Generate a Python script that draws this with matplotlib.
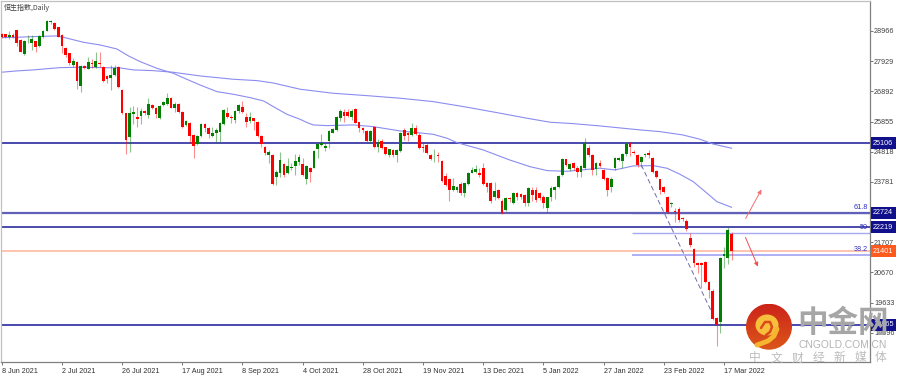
import numpy as np
import matplotlib
matplotlib.use('Agg')
import matplotlib.pyplot as plt
from matplotlib.patches import Circle, Ellipse

plt.rcParams['font.family'] = ['Noto Sans CJK SC', 'DejaVu Sans']

# Daily candles
direction = ('rrgrrrgggr' 'ggggrrrrrg' 'rgrgrgrrrg' 'grrrggrgrg' 'rrgggrgrrg'
             'rrggrrgggg' 'rrggrrgrrr' 'rgrggrgggg' 'rgrggggggg' 'grrgrrrrgr'
             'grrgrggrrg' 'rrrrrgrrrr' 'ggrggggrrr' 'rgrrgrgrrr' 'grrrrggggg'
             'rgrrggrrgr' 'rrggggg' 'rrr' 'ggrrrrrrgr' 'rrrrrrrrrr' 'rgggr')
highs = [28888, 28877, 28980, 28888, 29003, 28682, 28659, 28831, 28831, 28636,
         28819, 29003, 29346, 29346, 29289, 29117, 28854, 28430, 28223, 28028,
         27925, 27788, 27788, 28063, 27994, 28258, 28258, 27765, 27444, 27799,
         27799, 27765, 26963, 26160, 26367, 26390, 26367, 26310, 26252, 26653,
         26458, 26344, 26413, 26573, 26825, 26710, 26539, 26481, 26218, 25908,
         25840, 25427, 25393, 25817, 25794, 25679, 25679, 25622, 25851, 26275,
         26344, 26080, 26252, 26458, 26562, 26160, 26195, 25989, 25885, 25393,
         25026, 24877, 24740, 24189, 24820, 24419, 24590, 24418, 24740, 24740,
         24591, 24362, 24281, 24877, 25107, 25427, 25107, 25565, 25634, 26058,
         26276, 26276, 26276, 26276, 26310, 25851, 25680, 25565, 25565, 25702,
         25244, 25244, 24992, 24923, 24912, 24900, 25508, 25622, 25508, 25794,
         25737, 25450, 25107, 25107, 24740, 24900, 24820, 24534, 24098, 23903,
         23903, 23640, 23789, 23754, 24133, 24281, 24362, 24247, 24419, 23789,
         23766, 23789, 23525, 23181, 23250, 23273, 23445, 23445, 23410, 23365,
         23594, 23617, 23617, 23433, 23319, 23273, 23640, 23640, 24029, 24591,
         24580, 24442, 24465, 24327, 24373, 25278, 25049, 24740, 24465, 24534,
         24236, 23938, 23938, 24648, 24625, 24786, 25164, 25164, 24877, 24740,
         24671, 24763, 24877, 24648, 24190, 23892, 23640, 23307, 23090, 22872,
         22929, 22562, 22494, 22012, 21497, 21038, 21038, 21073, 20385, 20087,
         19124, 21210, 21554, 22242, 22070]
tops = [28865, 28854, 28831, 28831, 29003, 28659, 28636, 28636, 28682, 28613,
        28796, 28968, 29323, 29312, 29255, 29094, 28831, 28372, 28200, 27948,
        27902, 27765, 27765, 27902, 27880, 27925, 27880, 27742, 27421, 27444,
        27696, 27742, 26940, 26138, 26160, 26183, 26023, 26218, 26229, 26458,
        26424, 26310, 26390, 26539, 26676, 26653, 26447, 26458, 26195, 25874,
        25817, 25404, 25370, 25771, 25771, 25622, 25450, 25565, 25794, 26241,
        26138, 26023, 26218, 26424, 26344, 26000, 26000, 25966, 25851, 25358,
        24992, 24820, 24717, 24132, 24533, 24396, 24338, 24304, 24499, 24625,
        24385, 24327, 24259, 24854, 25084, 25118, 25026, 25531, 25599, 26023,
        26207, 26172, 26184, 26207, 26287, 25829, 25622, 25542, 25542, 25680,
        25164, 25187, 24969, 24900, 24877, 24877, 25473, 25565, 25450, 25622,
        25622, 25393, 24992, 25049, 24706, 24706, 24706, 24499, 23983, 23880,
        23640, 23617, 23697, 23731, 24098, 24190, 24213, 24075, 24247, 23731,
        23731, 23468, 23502, 23136, 23216, 23239, 23410, 23388, 23365, 23330,
        23560, 23502, 23502, 23388, 23273, 23250, 23582, 23594, 23995, 24557,
        24557, 24396, 24419, 24270, 24339, 25130, 24935, 24706, 24419, 24442,
        24190, 23903, 23869, 24614, 24602, 24740, 25072, 25130, 24820, 24706,
        24648, 24740, 24763, 24614, 24167, 23869, 23594, 23273, 23067, 22792,
        22838, 22528, 22448, 21840, 21462, 21004, 21004, 21015, 20351, 20041,
        19090, 21153, 21290, 22127, 21992]
bottoms = [28773, 28750, 28762, 28750, 28544, 28258, 28177, 28613, 28567, 28430,
           28452, 28773, 28980, 29266, 29026, 28773, 28452, 28143, 27857, 27799,
           27249, 27077, 27685, 27673, 27834, 27719, 27834, 27261, 27318, 27352,
           27444, 27054, 26138, 25221, 25335, 26115, 25954, 26057, 26138, 26080,
           26310, 26115, 25966, 26424, 26447, 26332, 26310, 26172, 25679, 25736,
           25358, 25015, 25083, 25370, 25622, 25416, 25370, 25450, 25484, 25771,
           26023, 25966, 25908, 26218, 26195, 25851, 25885, 25885, 25358, 25083,
           24762, 24705, 23697, 23960, 24075, 24018, 24098, 24247, 24338, 24453,
           24018, 23880, 24133, 24270, 24912, 25049, 24946, 25198, 25473, 25565,
           25966, 26046, 26046, 26023, 25817, 25622, 25565, 25175, 25198, 24969,
           24992, 24935, 24740, 24694, 24706, 24706, 24854, 25359, 25382, 25393,
           25416, 24935, 24958, 24786, 24568, 24694, 24671, 23823, 23674, 23502,
           23502, 23502, 23388, 23410, 23708, 24098, 24133, 24018, 23708, 23617,
           23124, 23273, 23216, 22700, 22815, 23181, 23067, 23250, 23273, 23044,
           23067, 23330, 23158, 23216, 23067, 22872, 23273, 23502, 23617, 24018,
           24362, 24213, 24247, 24121, 24133, 24270, 24706, 24190, 24213, 24327,
           23869, 23502, 23594, 24247, 24534, 24511, 24740, 24992, 24786, 24362,
           24465, 24694, 24706, 24132, 23938, 23502, 23422, 22757, 23021, 22746,
           22471, 22494, 22150, 21611, 21004, 20924, 20924, 20351, 20064, 19067,
           18861, 18976, 21233, 21176, 21416]
lows = [28716, 28716, 28682, 28716, 28453, 28235, 28155, 28544, 28315, 28258,
        28407, 28739, 28957, 29209, 29003, 28750, 28200, 28063, 27799, 27742,
        26963, 26883, 27650, 27650, 27685, 27696, 27742, 27226, 27192, 26940,
        27421, 27020, 26115, 24740, 24820, 25771, 25679, 25771, 26080, 25966,
        26275, 25966, 25931, 26390, 26413, 26310, 26195, 26138, 25622, 25702,
        25106, 24590, 25049, 25335, 25507, 25278, 25312, 25164, 25164, 25736,
        25966, 25794, 25794, 26160, 26160, 25656, 25817, 25565, 25335, 24992,
        24705, 24442, 23662, 23674, 23960, 23960, 24052, 24189, 24018, 24361,
        23984, 23708, 23789, 24247, 24614, 25015, 24854, 24935, 25450, 25531,
        25886, 25851, 26000, 25909, 25794, 25508, 25450, 25152, 25107, 24946,
        24820, 24900, 24706, 24648, 24648, 24453, 24820, 25221, 25198, 25359,
        25382, 24900, 24820, 24740, 24534, 24476, 24476, 23789, 23640, 23124,
        23468, 23445, 23330, 23250, 23674, 24075, 24075, 23961, 23663, 23445,
        23067, 23158, 23181, 22666, 22780, 23101, 23021, 23158, 23181, 22952,
        22952, 23135, 23101, 23158, 22872, 22734, 23135, 23181, 23582, 23995,
        24327, 24167, 24190, 23938, 23961, 24213, 24648, 24018, 24018, 24281,
        23846, 23307, 23445, 24190, 24488, 24247, 24671, 24671, 24740, 24304,
        24304, 24648, 24591, 24075, 23903, 23365, 23388, 22700, 22906, 22414,
        22414, 22448, 22104, 21531, 20843, 20637, 20122, 20316, 19778, 19033,
        18139, 18574, 20809, 20947, 21096]

# Moving averages (bar index, price)
slow_idx = [0, 4, 8.3, 15.5, 21.6, 26, 31.5, 35, 40.2, 45.5, 52.7, 57.2, 61.5, 67.9, 72.1, 79.3,
            88, 97, 105.9, 114.7, 123.7, 132.5, 139.6, 145.8, 151.9, 159,
            169.7, 175, 181, 185.6, 189, 194]
slow_ma = [27549, 27594, 27628, 27707, 27721, 27707, 27697, 27628, 27604, 27549, 27422, 27364,
           27308, 27260, 27181, 26965, 26827, 26745, 26655, 26539, 26346, 26140, 25968, 25830,
           25782, 25703, 25566, 25507, 25394, 25246, 25085, 24937]
fast_idx = [0, 4, 8.4, 14.6, 16.4, 21.7, 26.1, 30.6, 33.7, 36.8, 41.2, 45.6, 49.2, 52.7, 57.2, 61.6,
            66, 69.6, 72.2, 75.8, 79.3, 81.2, 82.8, 86.5, 93.4, 98.7, 105.9, 114.7, 118.4, 121,
            128, 135, 140.4, 145, 150.3, 159, 163, 167.8, 173.2, 176.9, 180.3, 183.8, 187.5, 190.1, 194]
fast_ma = [28739, 28750, 28773, 28796, 28750, 28579, 28487, 28349, 28109, 27914, 27685, 27513,
           27306, 27112, 26882, 26791, 26676, 26562, 26367, 26103, 25932, 25817, 25737, 25714,
           25737, 25680, 25531, 25416, 25278, 25130, 24877, 24534, 24304, 24167, 24144, 24250,
           24190, 24327, 24339, 24247, 24041, 23789, 23388, 23101, 22906]

# Levels and labels
navy_levels = [25106, 22724, 22219, 18865]
navy_labels = ['25106', '22724', '22219', '18865']
last_price = 21401
fib_levels = [22724, 22015, 21271]
fib_names = ['61.8', '50', '38.2']
y_ticks = [28966, 27929, 26892, 25855, 24818, 23781, 21707, 20670, 19633, 18596]
x_ticks = list(range(0, 193, 16))
x_labels = ['8 Jun 2021', '2 Jul 2021', '26 Jul 2021', '17 Aug 2021', '8 Sep 2021', '4 Oct 2021',
            '28 Oct 2021', '19 Nov 2021', '13 Dec 2021', '5 Jan 2022', '27 Jan 2022', '23 Feb 2022',
            '17 Mar 2022']

fig = plt.figure(figsize=(9.03, 3.76), dpi=100)
ax = fig.add_axes([1 / 903, 1 - 362 / 376, 869 / 903, 361 / 376])
ax.set_xlim(-0.19, 230.8)
ax.set_ylim(17589, 29997)

x = np.arange(len(highs))
colors = ['#ff0000' if d == 'r' else '#007f00' for d in direction]

# Fib levels sit behind the candles
for level, name in zip(fib_levels, fib_names):
    ax.hlines(level, 167.5, 230.8, color='#a8a8f4', lw=1.3 if name == '38.2' else 1.0, zorder=1)
    ax.text(230.3, level + 60, name, ha='right', va='bottom', fontsize=5.2, color='#3030c0',
            family='Liberation Sans')

ax.hlines(navy_levels[0], -0.19, 230.8, color='#2a2aa0', lw=1.2, zorder=1)
ax.hlines(navy_levels[1], -0.19, 230.8, color='#6060b8', lw=1.6, zorder=1)
ax.hlines(navy_levels[2], -0.19, 230.8, color='#1a1a96', lw=1.1, zorder=1)
ax.hlines(navy_levels[3], -0.19, 230.8, color='#4848b0', lw=1.4, zorder=1)
ax.hlines(last_price, -0.19, 230.8, color='#ffb49a', lw=1.1, zorder=1)

ax.plot(slow_idx, slow_ma, color='#8c8cf0', lw=0.8, zorder=2)
ax.plot(fast_idx, fast_ma, color='#8c8cf0', lw=0.8, zorder=2)

# Candles
ax.vlines(x, lows, highs, colors=colors, lw=0.8, alpha=0.45, zorder=3)
ax.bar(x, np.array(tops) - np.array(bottoms), bottom=bottoms, width=0.72, color=colors, lw=0, zorder=4)

# Hand-drawn lines on the chart
ax.plot([170, 190], [24360, 18960], color='#6c6ca8', lw=0.7, ls=(0, (5, 3)), zorder=3)
ax.annotate('', xy=(202.3, 23600), xytext=(197.4, 22440),
            arrowprops=dict(arrowstyle='-|>', color='#f27070', lw=0.7, mutation_scale=6))
ax.annotate('', xy=(201.3, 20780), xytext=(197.4, 21960),
            arrowprops=dict(arrowstyle='-|>', color='#f05050', lw=0.7, mutation_scale=6))

# Axes
ax.yaxis.tick_right()
ax.set_yticks(y_ticks)
ax.set_yticklabels([str(t) for t in y_ticks], fontsize=5.2, color='#404040', family='Liberation Sans')
ax.set_xticks(x_ticks)
ax.set_xticklabels(x_labels, fontsize=5.2, color='#303030', ha='left', family='Liberation Sans')
ax.tick_params(axis='y', length=2, width=0.6, pad=1, color='#606060')
ax.tick_params(axis='x', length=2, width=0.6, pad=2, color='#606060')
for side, c in [('top', '#c0c0c0'), ('left', '#c0c0c0'), ('right', '#808080'), ('bottom', '#808080')]:
    ax.spines[side].set_color(c)
    ax.spines[side].set_linewidth(0.9)

# Price boxes
trans = ax.get_yaxis_transform()
for level, label in zip(navy_levels, navy_labels):
    ax.text(1.0035, level, label, transform=trans, ha='left', va='center', fontsize=5.2, color='white',
            family='Liberation Sans', clip_on=False,
            bbox=dict(boxstyle='square,pad=0.35', fc='#10108c', ec='none'))
ax.text(1.0035, last_price, str(last_price), transform=trans, ha='left', va='center', fontsize=5.2,
        color='white', family='Liberation Sans', clip_on=False,
        bbox=dict(boxstyle='square,pad=0.35', fc='#ff5a1e', ec='none'))

ax.text(0.003, 0.992, '恒生指数,Daily', transform=ax.transAxes, ha='left', va='top', fontsize=5, color='#404040')

# Watermark in image pixels
over = fig.add_axes([0, 0, 1, 1], facecolor='none')
over.axis('off')
cx, cy, r = 769, 326.7, 23
grad = np.linspace(0, 1, 64)[:, None] * np.array([[0.06, 0.20, 0.0]]) + np.array([0.80, 0.14, 0.10])
im = over.imshow(grad[:, None, :], extent=(cx - r, cx + r, cy + r, cy - r), aspect='auto', zorder=10)
im.set_clip_path(Circle((cx, cy), r, transform=over.transData))
over.add_patch(Ellipse((767, 325), 23, 21, fc='#f7bf3c', ec='none', zorder=11))
over.plot([777, 774, 768, 757], [329, 336, 341, 345], color='#f5b52e', lw=3.5,
          solid_capstyle='round', zorder=11)
over.plot([761, 765, 770, 772, 770, 766], [328, 322, 322, 327, 332, 335], color='#dc4a1c', lw=1.8,
          solid_capstyle='round', zorder=12)
over.set_xlim(0, 903)
over.set_ylim(376, 0)
over.text(843, 323, '中金网', ha='center', va='center', fontsize=22, fontweight='bold', color='#a6a6a6', zorder=13)
over.text(843, 344.5, 'CNGOLD.COM.CN', ha='center', va='center', fontsize=7.4, color='#b4b4b4',
          family='Liberation Sans', zorder=13)
for i, ch in enumerate('中文财经新媒体'):
    over.text(755 + i * 21, 358, ch, ha='center', va='center', fontsize=8.5, color='#bcbcbc', zorder=13)

fig.savefig('out.png', dpi=100)
